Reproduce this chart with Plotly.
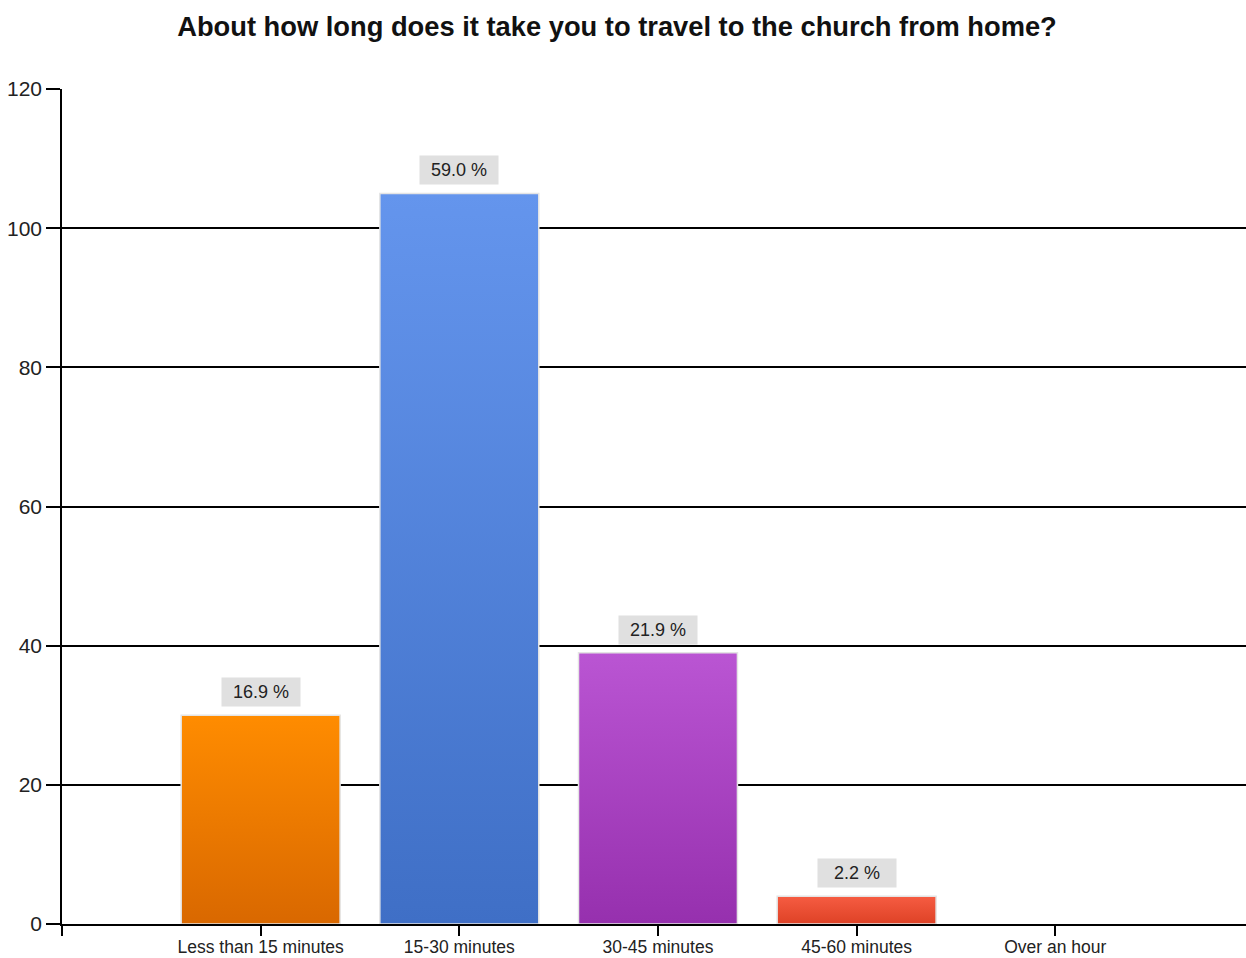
import plotly.graph_objects as go

categories = ["Less than 15 minutes", "15-30 minutes", "30-45 minutes", "45-60 minutes", "Over an hour"]
counts = [30, 105, 39, 4, 0]
percent_labels = ["16.9 %", "59.0 %", "21.9 %", "2.2 %", ""]
top_colors = ["#FF8C00", "#6495ED", "#BA55D3", "#F65C42", "#999999"]
bottom_colors = ["#D96800", "#3F6FC6", "#9630AE", "#DE4226", "#777777"]
y_ticks = [0, 20, 40, 60, 80, 100, 120]

title_text = "About how long does it take you to travel to the church from home?"
font_family = "Liberation Sans, Arial, sans-serif"
half_width = 0.4

fig = go.Figure()
positions = list(range(1, len(categories) + 1))
for pos, val, top, bot in zip(positions, counts, top_colors, bottom_colors):
    if val <= 0:
        continue
    fig.add_trace(go.Scatter(
        x=[pos - half_width, pos - half_width, pos + half_width, pos + half_width, pos - half_width],
        y=[0, val, val, 0, 0],
        mode="lines",
        fill="toself",
        fillgradient=dict(type="vertical", colorscale=[[0, bot], [1, top]]),
        line=dict(color="#E4E4E4", width=1.5),
        hoverinfo="skip",
        showlegend=False,
    ))

for pos, val, lab in zip(positions, counts, percent_labels):
    if not lab:
        continue
    fig.add_annotation(
        x=pos, y=val, text=lab, showarrow=False,
        yanchor="bottom", yshift=8,
        width=70, height=20,
        bgcolor="#E0E0E0", borderpad=4,
        font=dict(family=font_family, size=18, color="#222222"),
    )

W, H = 1246, 958
fig.update_layout(
    width=W, height=H,
    paper_bgcolor="white", plot_bgcolor="white",
    margin=dict(l=62, r=0, t=89, b=34),
    title=dict(text="<b>" + title_text + "</b>", x=617 / W, xanchor="center",
               y=1 - 26 / H, yanchor="middle",
               font=dict(family=font_family, size=27.3, color="#111111")),
    font=dict(family=font_family, color="#222222"),
    showlegend=False,
)

fig.update_xaxes(
    range=[0, 5.96],
    automargin=False,
    tickmode="array",
    tickvals=[0] + positions,
    ticktext=[""] + categories,
    ticks="outside", ticklen=10, tickwidth=1.5, tickcolor="black",
    ticklabelstandoff=-4,
    showline=True, linecolor="black", linewidth=1.5,
    showgrid=False, zeroline=False,
    tickfont=dict(family=font_family, size=17.5, color="#222222"),
)
fig.update_yaxes(
    range=[0, 120],
    automargin=False,
    tickmode="array", tickvals=y_ticks,
    ticks="outside", ticklen=14, tickwidth=1.5, tickcolor="black",
    showline=True, linecolor="black", linewidth=1.5,
    showgrid=True, gridcolor="black", gridwidth=1.5,
    zeroline=False,
    tickfont=dict(family=font_family, size=21, color="#222222"),
)

fig.write_html("out.html", config={"displayModeBar": False},
               post_script="document.body.style.margin='0';")
